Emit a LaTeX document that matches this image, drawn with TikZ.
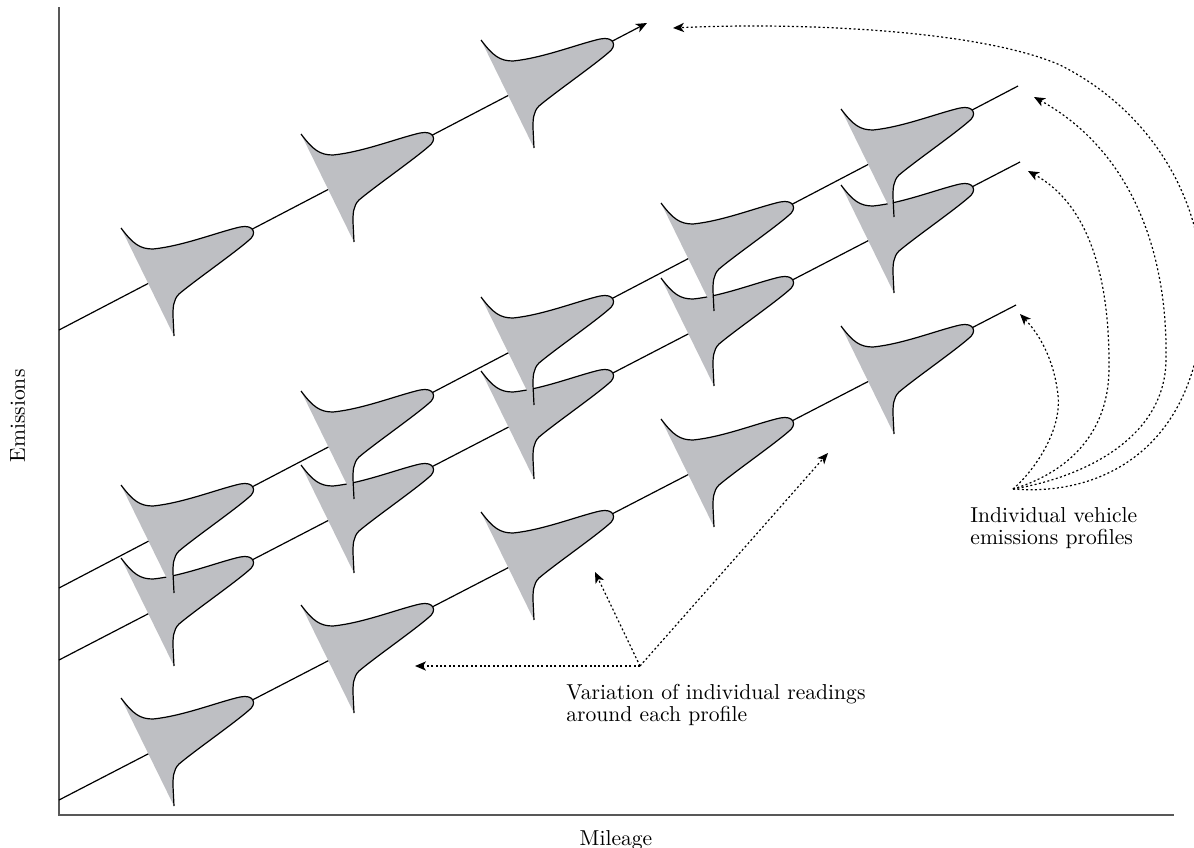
\documentclass[tikz,border=0pt]{standalone}
\usepackage{fontspec}
\usetikzlibrary{arrows.meta}
\definecolor{humpgray}{RGB}{190,191,195}
\definecolor{axisgray}{RGB}{88,88,88}
\tikzset{
  profile/.style={line width=0.6pt},
  guide/.style={line width=0.6pt, dash pattern=on 1pt off 1.2pt,
    -{Stealth[length=5.5pt,width=4.6pt,inset=1.5pt]}},
  caption/.style={font=\fontsize{10.8}{11}\selectfont, inner sep=0pt, align=left},
  reading/.pic={
    \fill[humpgray] (-27,-56) .. controls (-15,-40) and (-8,-35) .. (5,-35)
      .. controls (35,-38) and (70,-52) .. (92,-57)
      .. controls (106,-60) and (110,-50) .. (100,-43)
      .. controls (85,-30) and (45,-2) .. (31,10)
      .. controls (25,16) and (25,24) .. (25,32) -- (26,52) -- cycle;
    \draw[profile] (-27,-56) .. controls (-15,-40) and (-8,-35) .. (5,-35)
      .. controls (35,-38) and (70,-52) .. (92,-57)
      .. controls (106,-60) and (110,-50) .. (100,-43)
      .. controls (85,-30) and (45,-2) .. (31,10)
      .. controls (25,16) and (25,24) .. (25,32) -- (26,52);
  }
}

\begin{document}
\begin{tikzpicture}[x=0.5pt,y=-0.5pt]
\useasboundingbox (0,0) rectangle (1194,847);
\clip (0,0) rectangle (1194,847);

% axes
\draw[axisgray, line width=1.2pt] (59,7) -- (59,815) -- (1174,815);
\node[caption, anchor=base] (mileage) at (616,845) {Mileage};
\node[caption, anchor=base, rotate=90] (emissions) at (25,416)
  {\addfontfeature{LetterSpace=14}Emissions};

% the four vehicles
\coordinate (a0) at (59,330);  \coordinate (a1) at (647,23);
\coordinate (b0) at (59,588);  \coordinate (b1) at (1018,86);
\coordinate (c0) at (59,660);  \coordinate (c1) at (1020,162);
\coordinate (d0) at (59,800);  \coordinate (d1) at (1016,305);
\draw[profile, -{Stealth[length=5.5pt,width=4.6pt,inset=1.5pt]}] (a0) -- (a1);
\draw[profile] (b0) -- (b1);
\draw[profile] (c0) -- (c1);
\draw[profile] (d0) -- (d1);

% readings, lowest profile first
\pic at (148,754) {reading};
\pic at (328,661) {reading};
\pic at (508,568) {reading};
\pic at (688,475) {reading};
\pic at (868,382) {reading};

\pic at (148,614) {reading};
\pic at (328,521) {reading};
\pic at (508,427) {reading};
\pic at (688,334) {reading};
\pic at (868,241) {reading};

\pic at (148,541) {reading};
\pic at (328,447) {reading};
\pic at (508,353) {reading};
\pic at (688,259) {reading};
\pic at (868,165) {reading};

\pic at (148,284) {reading};
\pic at (328,190) {reading};
\pic at (508,96) {reading};

% labels and pointers
\node[caption, anchor=north west] (vehtext) at (970,507)
  {Individual vehicle\\emissions profiles};
\node[caption, anchor=north west] (vartext) at (566,684)
  {Variation of individual readings\\around each profile};

\coordinate (vsrc) at (1013,489);
\coordinate (tipA) at (673,28);
\coordinate (tipB) at (1034,97);
\coordinate (tipC) at (1028,171);
\coordinate (tipD) at (1020,314);
\draw[guide] (vsrc) .. controls (1035,470) and (1062,430) .. (1058,395)
  .. controls (1054,360) and (1040,335) .. (tipD);
\draw[guide] (vsrc) .. controls (1060,475) and (1108,440) .. (1109,370)
  .. controls (1110,280) and (1090,205) .. (tipC);
\draw[guide] (vsrc) .. controls (1080,478) and (1165,440) .. (1166,360)
  .. controls (1168,250) and (1130,150) .. (tipB);
\draw[guide] (vsrc) .. controls (1110,497) and (1200,440) .. (1203,300)
  .. controls (1206,200) and (1150,110) .. (1060,65)
  .. controls (980,30) and (800,22) .. (tipA);

\coordinate (rsrc) at (640,666);
\coordinate (tipL) at (415,666);
\coordinate (tipM) at (595,572);
\coordinate (tipR) at (828,453);
\draw[guide] (rsrc) -- (tipL);
\draw[guide] (rsrc) -- (tipM);
\draw[guide] (rsrc) -- (tipR);
\end{tikzpicture}
\end{document}
